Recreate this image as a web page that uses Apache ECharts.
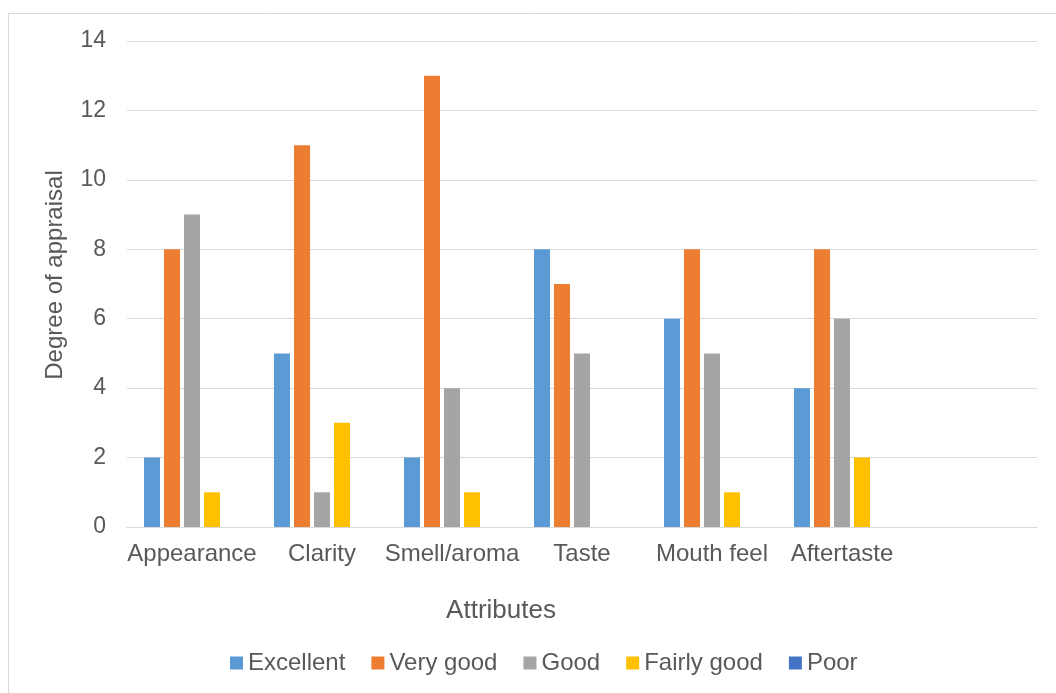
<!DOCTYPE html>
<html>
<head>
<meta charset="utf-8">
<script src="https://cdn.jsdelivr.net/npm/echarts@6/dist/echarts.min.js"></script>
<style>
  html, body { margin: 0; padding: 0; background: #fff; }
  #chart { width: 1056px; height: 693px; }
</style>
</head>
<body>
<div id="chart"></div>
<script>
// categories (last slot is empty, as in the original)
var categories = ['Appearance', 'Clarity', 'Smell/aroma', 'Taste', 'Mouth feel', 'Aftertaste', ''];
var seriesNames = ['Excellent', 'Very good', 'Good', 'Fairly good', 'Poor'];
var excellent = [2, 5, 2, 8, 6, 4];
var veryGood = [8, 11, 13, 7, 8, 8];
var good = [9, 1, 4, 5, 5, 6];
var fairlyGood = [1, 3, 1, 0, 1, 2];
var poor = [0, 0, 0, 0, 0, 0];
var yTicks = [0, 2, 4, 6, 8, 10, 12, 14];

var colors = ['#5B9BD5', '#ED7D31', '#A5A5A5', '#FFC000', '#4472C4'];
var values = [excellent, veryGood, good, fairlyGood, poor];

var chart = echarts.init(document.getElementById('chart'));
var txt = '#595959';
var font = 'Liberation Sans, Arial, sans-serif';

var option = {
  animation: false,
  color: colors,
  textStyle: { fontFamily: font, color: txt },
  // outer chart border
  graphic: [{
    type: 'rect',
    left: 6, top: 11,
    shape: { width: 1100, height: 720 },
    style: { fill: 'none', stroke: '#d9d9d9', lineWidth: 1 },
    silent: true
  }],
  grid: { left: 127, right: 19, top: 41, bottom: 166 },
  legend: {
    bottom: 13,
    left: 225,
    itemWidth: 13,
    itemHeight: 13,
    itemGap: 26,
    icon: 'rect',
    textStyle: { fontSize: 24, color: txt, fontFamily: font },
    data: seriesNames
  },
  xAxis: {
    type: 'category',
    data: categories,
    name: 'Attributes',
    nameLocation: 'middle',
    nameGap: 71,
    nameTextStyle: { fontSize: 26, color: txt, padding: [0, 162, 0, 0] },
    axisLine: { lineStyle: { color: '#d9d9d9', width: 1 } },
    axisTick: { show: false },
    axisLabel: { fontSize: 24, color: txt, margin: 15, interval: 0 }
  },
  yAxis: {
    type: 'value',
    min: yTicks[0],
    max: yTicks[yTicks.length - 1],
    interval: 2,
    name: 'Degree of appraisal',
    nameLocation: 'middle',
    nameGap: 60,
    nameTextStyle: { fontSize: 24, color: txt, padding: [0, 0, 0, 18] },
    axisLine: { show: false },
    axisTick: { show: false },
    axisLabel: { fontSize: 23, color: txt, margin: 21 },
    splitLine: { lineStyle: { color: '#d9d9d9', width: 1 } }
  },
  series: seriesNames.map(function (name, i) {
    return {
      name: name,
      type: 'bar',
      barWidth: 16,
      barGap: '25%',
      data: values[i],
      itemStyle: { color: colors[i] }
    };
  })
};

chart.setOption(option);
</script>
</body>
</html>
